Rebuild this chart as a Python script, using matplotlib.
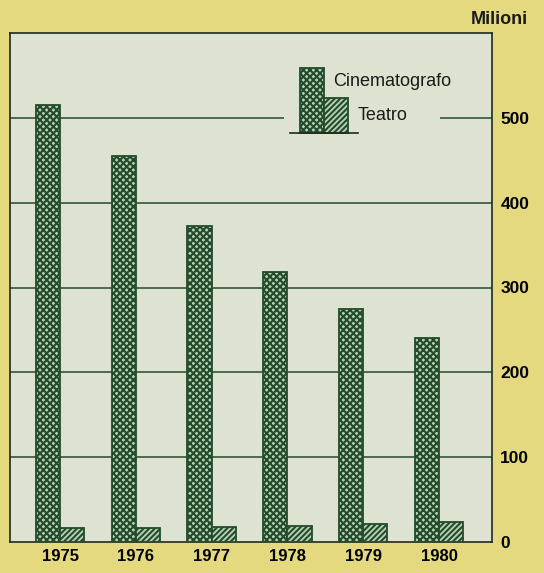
import matplotlib
matplotlib.use("Agg")
import matplotlib.pyplot as plt
from matplotlib.patches import Rectangle
from matplotlib.lines import Line2D
import numpy as np

years = ['1975', '1976', '1977', '1978', '1979', '1980']
cinema = [515, 455, 372, 318, 275, 240]
teatro = [16, 16, 18, 19, 21, 23]
yticks = [0, 100, 200, 300, 400, 500]

FIG_BG = '#E4D97F'
AX_BG = '#DEE2D0'
DARK = '#234B2C'
LIGHT_G = '#B9D2B4'

plt.rcParams['font.family'] = ['Liberation Sans', 'DejaVu Sans']
plt.rcParams['hatch.color'] = DARK
plt.rcParams['hatch.linewidth'] = 1.5

W, H = 544, 573
fig = plt.figure(figsize=(W / 100, H / 100), dpi=100, facecolor=FIG_BG)
L, R, T, B = 10, 492, 33, 542
ax = fig.add_axes([L / W, 1 - B / H, (R - L) / W, (B - T) / H])
ax.set_facecolor(AX_BG)

x = np.arange(len(years))
bw = 0.32
ax.set_xlim(-0.66, 5.70)
ax.set_ylim(0, 600)

for yv in yticks[1:]:
    ax.axhline(yv, color=DARK, lw=1.1, zorder=1)

ax.bar(x - bw / 2, cinema, width=bw, facecolor=LIGHT_G, edgecolor=DARK,
       hatch='xxxxx', lw=1.3, zorder=3)
ax.bar(x + bw / 2, teatro, width=bw, facecolor=LIGHT_G, edgecolor=DARK,
       hatch='//////', lw=1.3, zorder=3)

ax.set_xticks(x)
ax.set_xticklabels(years, fontsize=12, fontweight='bold')
ax.tick_params(axis='x', length=0, pad=5)
ax.yaxis.tick_right()
ax.set_yticks(yticks)
ax.set_yticklabels([str(v) for v in yticks], fontsize=12.5, fontweight='bold')
ax.tick_params(axis='y', length=0, pad=6)
for s in ax.spines.values():
    s.set_color('#1E2A1E')
    s.set_linewidth(1.2)

fig.text(528 / W, 1 - 19 / H, 'Milioni', ha='right', va='center',
         fontsize=13, fontweight='bold', color='#1A1A1A')

def ax_x(px):
    return (px - L) / (R - L)

def ax_y(py):
    return (B - py) / (B - T)

# mask over gridline behind legend
ax.add_patch(Rectangle((ax_x(284), ax_y(128)), ax_x(440) - ax_x(284), ax_y(106) - ax_y(128),
                       transform=ax.transAxes, facecolor=AX_BG, edgecolor='none', zorder=2))
# legend
ax.add_patch(Rectangle((ax_x(300), ax_y(133)), ax_x(324) - ax_x(300), ax_y(68) - ax_y(133),
                       transform=ax.transAxes, facecolor=LIGHT_G, edgecolor=DARK,
                       hatch='xxxxx', lw=1.3, zorder=4))
ax.add_patch(Rectangle((ax_x(324), ax_y(133)), ax_x(348) - ax_x(324), ax_y(98) - ax_y(133),
                       transform=ax.transAxes, facecolor=LIGHT_G, edgecolor=DARK,
                       hatch='//////', lw=1.3, zorder=4))
ax.add_line(Line2D([ax_x(290), ax_x(358)], [ax_y(133), ax_y(133)], transform=ax.transAxes,
                   color='#1E2A1E', lw=1.2, zorder=5))
ax.text(ax_x(333), ax_y(81), 'Cinematografo', transform=ax.transAxes, ha='left', va='center',
        fontsize=13, color='#1A1A1A', zorder=5)
ax.text(ax_x(358), ax_y(116), 'Teatro', transform=ax.transAxes, ha='left', va='center',
        fontsize=13, color='#1A1A1A', zorder=5)

fig.savefig('out.png', dpi=100, facecolor=FIG_BG)
